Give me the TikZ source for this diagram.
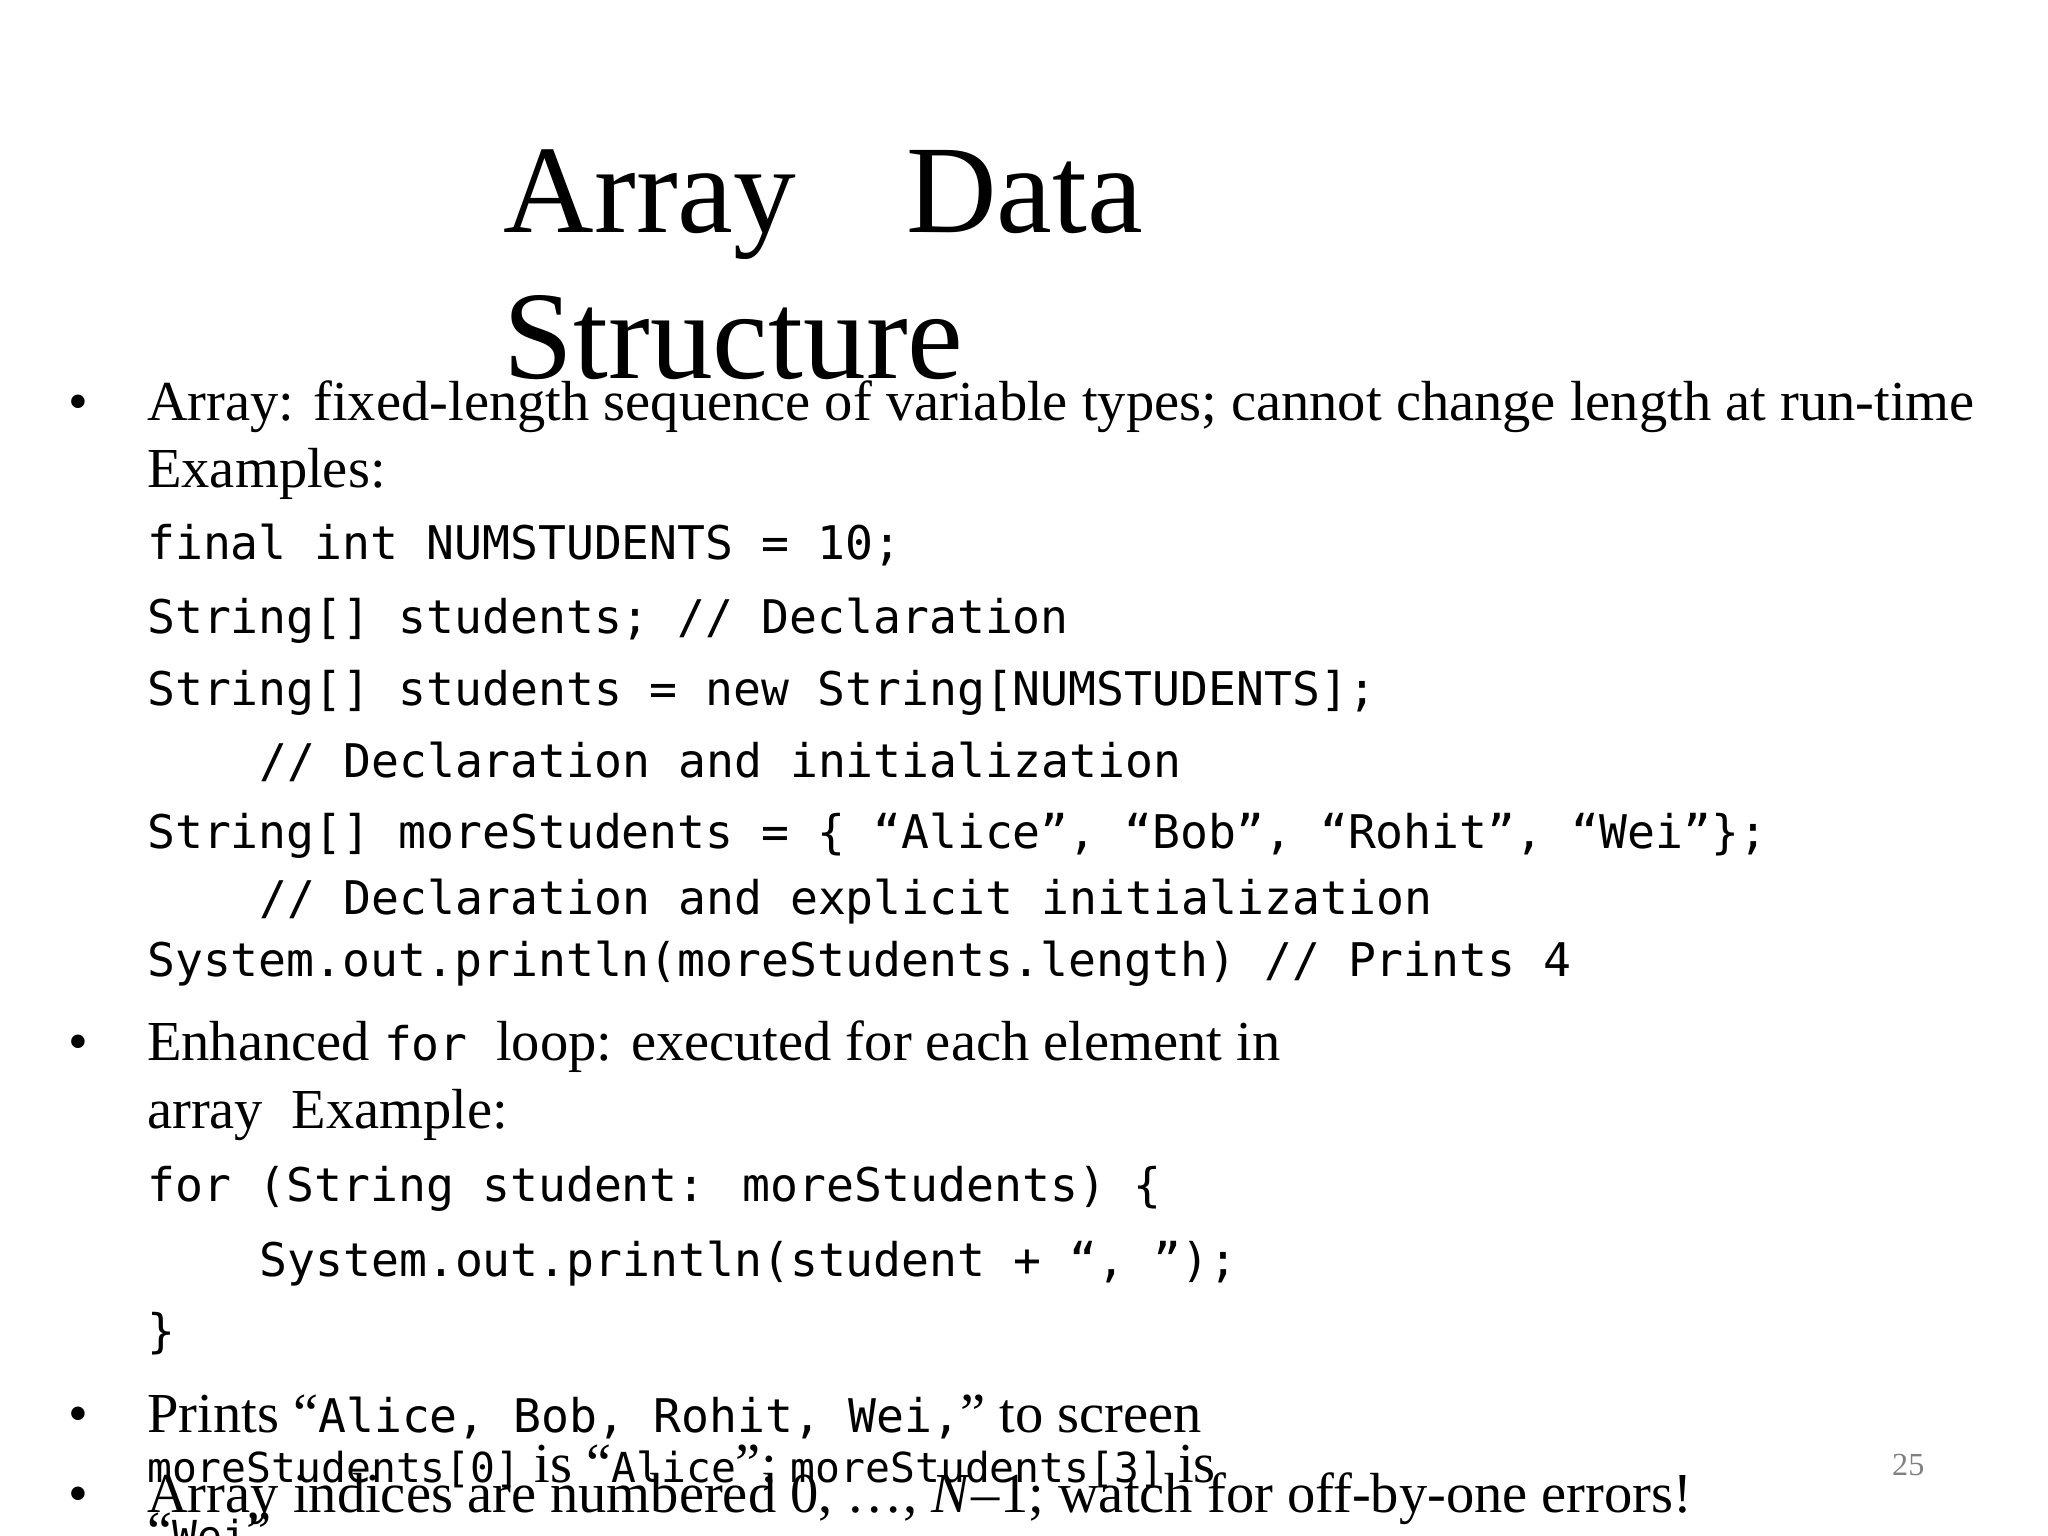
\documentclass[tikz,border=0pt]{standalone}
\usepackage{fontspec}
\setmainfont{Liberation Serif}
\newfontfamily\monofam{DejaVu Sans Mono}
\newcommand{\mcode}[1]{{\monofam\fontsize{10.1pt}{12pt}\selectfont #1}}
\newcommand{\scode}[1]{{\monofam\fontsize{9pt}{10pt}\selectfont #1}}
\begin{document}
\begin{tikzpicture}[x=0.01cm,y=-0.01cm,
  body/.style={anchor=base west,inner sep=0pt,font=\fontsize{12.3pt}{14pt}\selectfont},
  code/.style={anchor=base west,inner sep=0pt,font=\monofam\fontsize{10.1pt}{12pt}\selectfont},
  ttl/.style={anchor=base west,inner sep=0pt,font=\fontsize{27.3pt}{32pt}\selectfont},
  bul/.style={anchor=base,inner sep=0pt,font=\fontsize{12.3pt}{14pt}\selectfont}]
\useasboundingbox (0,0) rectangle (1568,1176);
\fill[white] (0,0) rectangle (1568,1176);
\node[ttl] (t1) at (385,178) {Array};
\node[ttl] (t2) at (693,178) {Data};
\node[ttl] (t3) at (385,290) {Structure};
\node[bul] (b1) at (60,322) {•};
\node[body] (l1) at (112,322) {Array: fixed-length sequence of variable types; cannot change length at run-time};
\node[body] (l2) at (112,373) {Examples:};
\node[code] (c1) at (112,428) {final int NUMSTUDENTS = 10;};
\node[code] (c2) at (112,485) {String[] students; // Declaration};
\node[code] (c3) at (112,540) {String[] students = new String[NUMSTUDENTS];};
\node[code] (c4) at (198,595) {// Declaration and initialization};
\node[code] (c5) at (112,650) {String[] moreStudents = \{ “Alice”, “Bob”, “Rohit”, “Wei”\};};
\node[code] (c6) at (198,700) {// Declaration and explicit initialization};
\node[code] (c7) at (112,748) {System.out.println(moreStudents.length) // Prints 4};
\node[bul] (b2) at (60,812) {•};
\node[body] (l3) at (112,812) {Enhanced \mcode{for} \ loop: executed for each element in};
\node[body] (l4) at (112,864) {array \ Example:};
\node[code] (c8) at (112,920) {for (String student: moreStudents) \{};
\node[code] (c9) at (198,977) {System.out.println(student + “, ”);};
\node[code] (c10) at (112,1032) {\}};
\node[bul] (b3) at (60,1097) {•};
\node[body] (l5) at (112,1097) {Prints “\mcode{Alice, Bob, Rohit, Wei,}” to screen};
\node[body] (l6) at (112,1135) {\scode{moreStudents[0]} is “\scode{Alice}”; \scode{moreStudents[3]} is};
\node[body] (l7) at (112,1187) {“\scode{Wei}”};
\node[bul] (b4) at (60,1158) {•};
\node[body] (l8) at (112,1158) {Array indices are numbered 0, …, \textit{N}–1; watch for off-by-one errors!};
\node[anchor=base west,inner sep=0pt,text=gray,font=\fontsize{7pt}{8pt}\selectfont] (pg) at (1448,1130) {25};
\end{tikzpicture}
\end{document}
